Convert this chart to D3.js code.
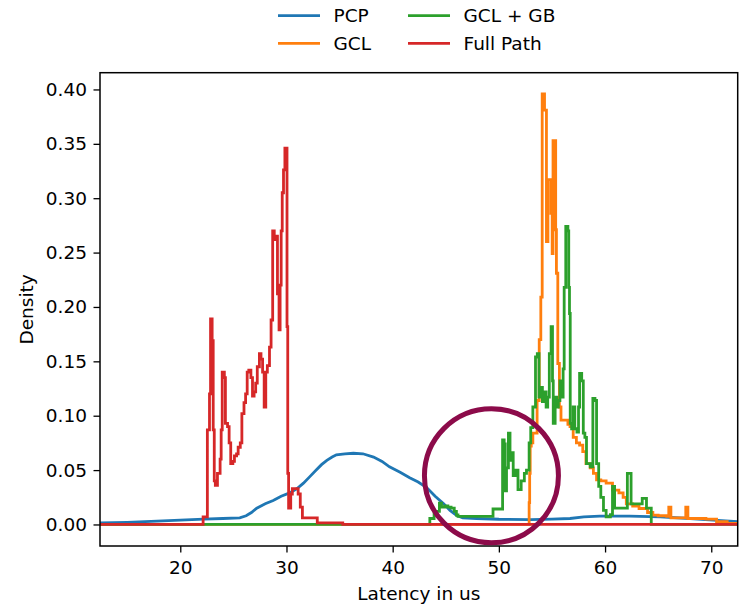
<!DOCTYPE html>
<html>
<head>
<meta charset="utf-8">
<script src="https://cdn.jsdelivr.net/npm/d3@7"></script>
<style>
  html, body { margin: 0; padding: 0; background: #fff; }
  svg { display: block; font-family: "DejaVu Sans", sans-serif; }
</style>
</head>
<body>
<svg id="chart" width="740" height="605"></svg>
<script>
// ---- Data ----
const seriesNames = ["PCP", "GCL", "GCL + GB", "Full Path"];
const seriesColors = ["#1f77b4", "#ff7f0e", "#2ca02c", "#d62728"];

// PCP: smooth density [latency, density]
const pcpX = [12.44, 15, 17.8, 20, 22.2, 24, 25.6, 26.2, 26.7, 27.2, 28, 28.75, 29.5, 30.3, 31, 31.6, 32.2, 32.8, 33.3, 33.8, 34.3, 34.7, 35.5, 36.3, 37.2, 38.2, 39, 39.7, 40.7, 41.6, 42.4, 43.2, 44, 44.8, 45.4, 46, 46.6, 47.9, 50, 53, 55, 56.7, 58, 59.5, 62.3, 65.2, 68, 70.2, 72.5];
const pcpY = [0.0015, 0.002, 0.003, 0.004, 0.005, 0.0055, 0.006, 0.008, 0.011, 0.015, 0.019, 0.022, 0.026, 0.029, 0.033, 0.038, 0.044, 0.05, 0.055, 0.059, 0.062, 0.064, 0.065, 0.0655, 0.065, 0.062, 0.058, 0.053, 0.048, 0.043, 0.039, 0.034, 0.026, 0.019, 0.013, 0.0085, 0.006, 0.0055, 0.0048, 0.0045, 0.005, 0.0055, 0.007, 0.0076, 0.0076, 0.007, 0.0055, 0.004, 0.0025];

// GCL: step density (value holds from each x to the next)
const gclX = [12.44, 52.85, 52.9, 52.95, 53.05, 53.2, 53.6, 53.8, 53.95, 54.08, 54.3, 54.48, 54.62, 54.9, 55.02, 55.1, 55.35, 55.42, 55.55, 55.7, 55.85, 56.5, 56.7, 57.0, 57.3, 57.6, 57.9, 58.2, 58.6, 58.9, 59.2, 59.6, 60.1, 60.7, 61.3, 61.7, 62.0, 62.6, 63.2, 64.0, 64.5, 65.0, 65.8, 66.0, 66.2, 67.6, 67.8, 69.5, 70.5, 71.5, 72.5];
const gclY = [0, 0.02, 0.047, 0.072, 0.075, 0.084, 0.114, 0.17, 0.209, 0.396, 0.381, 0.26, 0.317, 0.286, 0.249, 0.353, 0.271, 0.231, 0.148, 0.108, 0.096, 0.092, 0.09, 0.08, 0.075, 0.073, 0.067, 0.056, 0.052, 0.047, 0.041, 0.04, 0.038, 0.0315, 0.029, 0.025, 0.019, 0.017, 0.0147, 0.011, 0.0086, 0.008, 0.0075, 0.016, 0.006, 0.016, 0.0055, 0.005, 0.0025, 0.001, 0.001];

// GCL + GB: step density
const gbX = [12.44, 43.5, 43.9, 44.4, 44.6, 44.9, 45.2, 45.5, 45.8, 46.0, 46.15, 49.45, 50.35, 50.5, 50.6, 50.72, 50.9, 51.05, 51.2, 51.35, 51.55, 51.8, 52.1, 52.4, 52.6, 52.85, 53.0, 53.2, 53.45, 53.62, 53.78, 53.9, 54.1, 54.3, 54.45, 54.6, 54.75, 54.92, 55.05, 55.12, 55.3, 55.45, 55.6, 55.75, 55.9, 56.05, 56.15, 56.3, 56.5, 56.58, 56.65, 56.72, 56.85, 57.0, 57.15, 57.35, 57.5, 57.6, 57.8, 57.95, 58.1, 58.25, 58.6, 58.85, 59.05, 59.2, 59.4, 59.6, 59.85, 60.1, 60.5, 60.7, 60.9, 62.1, 62.45, 63.5, 63.9, 64.35, 72.5];
const gbY = [0, 0.0055, 0.012, 0.0195, 0.016, 0.017, 0.016, 0.015, 0.012, 0.0087, 0.0074, 0.0142, 0.0777, 0.074, 0.031, 0.052, 0.084, 0.059, 0.066, 0.045, 0.05, 0.032, 0.04, 0.047, 0.05, 0.075, 0.089, 0.108, 0.154, 0.157, 0.117, 0.126, 0.113, 0.122, 0.108, 0.117, 0.157, 0.182, 0.132, 0.093, 0.117, 0.108, 0.114, 0.132, 0.117, 0.143, 0.218, 0.274, 0.27, 0.218, 0.194, 0.093, 0.088, 0.108, 0.088, 0.085, 0.108, 0.139, 0.132, 0.084, 0.08, 0.056, 0.053, 0.116, 0.114, 0.056, 0.035, 0.025, 0.013, 0.007, 0.009, 0.035, 0.015, 0.047, 0.019, 0.024, 0.015, 0, 0];

// Full Path: step density
const fullX = [12.44, 22.15, 22.55, 22.75, 22.85, 23.0, 23.1, 23.2, 23.3, 23.5, 23.75, 23.85, 23.95, 24.15, 24.25, 24.45, 24.6, 24.75, 24.95, 25.1, 25.3, 25.45, 25.65, 25.8, 26.0, 26.15, 26.3, 26.45, 26.65, 26.8, 26.95, 27.1, 27.25, 27.45, 27.6, 27.75, 27.9, 28.05, 28.2, 28.4, 28.55, 28.7, 28.85, 29.0, 29.15, 29.3, 29.4, 29.5, 29.6, 29.72, 29.85, 30.05, 30.12, 30.2, 30.4, 30.55, 31.1, 31.3, 31.5, 32.9, 35.3, 72.5];
const fullY = [0, 0.007, 0.087, 0.12, 0.189, 0.169, 0.087, 0.04, 0.036, 0.047, 0.06, 0.087, 0.14, 0.135, 0.093, 0.09, 0.075, 0.056, 0.058, 0.063, 0.065, 0.071, 0.075, 0.102, 0.112, 0.12, 0.14, 0.142, 0.135, 0.118, 0.122, 0.13, 0.145, 0.157, 0.152, 0.14, 0.108, 0.14, 0.146, 0.163, 0.188, 0.27, 0.262, 0.265, 0.212, 0.179, 0.22, 0.27, 0.305, 0.326, 0.346, 0.182, 0.047, 0.015, 0.028, 0.033, 0.028, 0.016, 0.006, 0.0015, 0, 0];

const xTicks = [20, 30, 40, 50, 60, 70];
const yTicks = [0, 0.05, 0.10, 0.15, 0.20, 0.25, 0.30, 0.35, 0.40];
const xLabel = "Latency in us";
const yLabel = "Density";

// ---- Layout ----
const L = 100, R = 737.7, T = 72.7, B = 546;
const svg = d3.select("#chart");
const x = d3.scaleLinear().domain([12.44, 72.49]).range([L, R]);
const y = d3.scaleLinear().domain([-0.0198, 0.4154]).range([B, T]);

svg.append("defs").append("clipPath").attr("id", "clip")
  .append("rect").attr("x", L).attr("y", T).attr("width", R - L).attr("height", B - T);

const zip = (xs, ys) => xs.map((v, i) => [v, ys[i]]);
const series = [
  { data: zip(pcpX, pcpY), curve: d3.curveLinear },
  { data: zip(gclX, gclY), curve: d3.curveStepAfter },
  { data: zip(gbX, gbY), curve: d3.curveStepAfter },
  { data: zip(fullX, fullY), curve: d3.curveStepAfter }
];

const g = svg.append("g").attr("clip-path", "url(#clip)");
series.forEach((s, i) => {
  const line = d3.line().x(d => x(d[0])).y(d => y(d[1])).curve(s.curve);
  g.append("path").attr("d", line(s.data))
    .attr("fill", "none").attr("stroke", seriesColors[i])
    .attr("stroke-width", 2.8).attr("stroke-linejoin", "miter");
});

// Axes
const fontSize = 18.5;
const xAxis = d3.axisBottom(x).tickValues(xTicks).tickFormat(d3.format("d"))
  .tickSizeInner(6.5).tickSizeOuter(0).tickPadding(8.5);
const yAxis = d3.axisLeft(y).tickValues(yTicks).tickFormat(d3.format(".2f"))
  .tickSizeInner(6.5).tickSizeOuter(0).tickPadding(6.5);

const gx = svg.append("g").attr("transform", `translate(0,${B})`).call(xAxis);
const gy = svg.append("g").attr("transform", `translate(${L},0)`).call(yAxis);
[gx, gy].forEach(a => {
  a.select(".domain").remove();
  a.selectAll(".tick line").attr("stroke", "#000").attr("stroke-width", 1.3);
  a.selectAll(".tick text").attr("fill", "#000").style("font-size", fontSize + "px")
    .style("font-family", "'DejaVu Sans', sans-serif");
});

// Frame (spines)
svg.append("rect").attr("x", L).attr("y", T).attr("width", R - L).attr("height", B - T)
  .attr("fill", "none").attr("stroke", "#000").attr("stroke-width", 1.5);

// Axis labels
svg.append("text").attr("x", (L + R) / 2).attr("y", 600).attr("text-anchor", "middle")
  .style("font-size", fontSize + "px").attr("fill", "#000").text(xLabel);
svg.append("text").attr("transform", `translate(33,${(T + B) / 2}) rotate(-90)`)
  .attr("text-anchor", "middle").style("font-size", fontSize + "px").attr("fill", "#000").text(yLabel);

// Legend (two columns)
const legendPos = [[278, 15.7], [278, 43.3], [408, 15.7], [408, 43.3]];
seriesNames.forEach((name, i) => {
  const [lx, ly] = legendPos[i];
  svg.append("line").attr("x1", lx).attr("x2", lx + 42).attr("y1", ly).attr("y2", ly)
    .attr("stroke", seriesColors[i]).attr("stroke-width", 2.8);
  svg.append("text").attr("x", lx + 55.5).attr("y", ly).attr("dy", "0.36em")
    .style("font-size", fontSize + "px").attr("fill", "#000").text(name);
});

// Annotation circle
svg.append("circle").attr("cx", x(49.3)).attr("cy", y(0.0448)).attr("r", 67)
  .attr("fill", "none").attr("stroke", "#8c0b4a").attr("stroke-width", 5);
</script>
</body>
</html>
